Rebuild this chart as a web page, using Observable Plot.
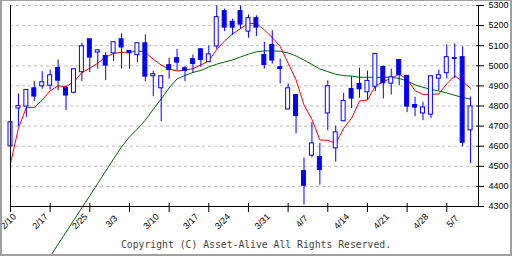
<!DOCTYPE html>
<html><head><meta charset="utf-8">
<script src="https://cdn.jsdelivr.net/npm/d3@7"></script>
<script src="https://cdn.jsdelivr.net/npm/@observablehq/plot@0.6"></script>
<style>
html,body{margin:0;padding:0;background:#fff;}
#wrap{position:relative;width:512px;height:256px;overflow:hidden;background:#fff;}
#frame{position:absolute;left:0;top:0;width:512px;height:256px;box-sizing:border-box;border:2px solid #a0a0a0;border-top-width:1px;pointer-events:none;}
#copy{position:absolute;left:0;width:512px;top:239px;text-align:center;font-family:"DejaVu Sans Mono",monospace;font-size:9.75px;color:#444;white-space:nowrap;}
</style></head><body>
<div id="wrap"><div id="chart"></div><div id="copy">Copyright (C) Asset-Alive All Rights Reserved.</div><div id="frame"></div></div>
<script>
// Trading days (index 0 = 2/10)
const opens  = [4599,4788,4797,4888,4898,4901,4989,4890,4866,4968,5132,5066,5049,5062,5132,5074,5053,5112,4948,4888,5003,5038,4988,5033,5082,5018,5096,5272,5219,5272,5170,5237,5054,5104,4993,4783,4855,4476,4553,4546,4763,4589,4724,4885,4910,4868,4896,4994,4911,5029,4950,4805,4763,4757,4936,4963,5034,5043,4679];
const highs  = [4721,4860,4882,4921,4971,4979,5029,4900,4985,5112,5134,5079,5066,5119,5159,5076,5114,5154,4974,4950,5038,5082,4996,5054,5084,5099,5298,5282,5232,5298,5253,5249,5117,5174,5033,4910,4857,4541,4717,4614,4925,4700,4863,4946,4988,4974,5061,4999,4984,5031,4952,4843,4818,4950,4979,5104,5109,5094,4845];
const lows   = [4597,4697,4744,4822,4883,4880,4876,4777,4860,4921,4966,4983,4926,5021,4984,4983,5016,4921,4847,4722,4933,4974,4921,4963,4993,5016,5082,5170,5152,5182,5137,5146,4984,5008,4910,4782,4661,4307,4543,4406,4677,4521,4722,4787,4838,4830,4871,4835,4855,4900,4767,4747,4727,4737,4876,4935,4935,4597,4513];
const closes = [4719,4800,4880,4847,4918,4953,4926,4852,4983,5097,5041,5077,5001,5117,5091,5062,5112,4946,4958,4948,4979,5016,4974,5009,5029,5057,5242,5190,5190,5205,5237,5190,5004,5026,4984,4888,4750,4403,4614,4481,4898,4669,4825,4837,4883,4925,5059,4913,4943,4955,4797,4792,4793,4948,4953,5043,5038,4617,4798];
// short moving average (red) and long moving average (green)
const maShort = [4514,4689,4793,4793,4830,4876,4900,4896,4921,4966,4988,5013,5043,5062,5067,5067,5074,5067,5033,5004,4984,4974,4978,4986,5004,5024,5082,5124,5159,5185,5212,5209,5179,5141,5096,5013,4930,4805,4734,4631,4629,4614,4689,4739,4825,4830,4900,4921,4938,4958,4933,4876,4858,4858,4860,4910,4950,4921,4888];
const maLong  = [null,null,null,null,3990,4051,4112,4172,4233,4294,4354,4415,4476,4537,4597,4646,4686,4730,4783,4836,4890,4935,4952,4967,4977,4994,5008,5019,5029,5044,5058,5069,5074,5074,5072,5064,5049,5029,5007,4984,4971,4958,4951,4949,4943,4943,4943,4943,4943,4937,4925,4905,4893,4883,4875,4865,4853,4843,4834];
// x tick marks (every 5 trading days) and date labels
const xTickIdx   = [0,5,10,15,20,25,30,35,40,45,50,55];
const xLabelIdx  = [0,4,9,13,18,23,27,32,37,42,47,52,56];
const xLabelText = ["2/10","2/17","2/25","3/3","3/10","3/17","3/24","3/31","4/7","4/14","4/21","4/28","5/7"];
const yTicks     = [4300,4400,4500,4600,4700,4800,4900,5000,5100,5200,5300];
const gridVals   = [4400,4500,4600,4700,4800,4900,5000,5100,5200,5300];

const idx = d3.range(opens.length);
const candles = idx.map(i => ({i, o: opens[i], h: highs[i], l: lows[i], c: closes[i]}));
const labels = xLabelIdx.map((x, k) => ({x, t: xLabelText[k]}));
const BLUE = "#0000ff";

const chart = Plot.plot({
  width: 512, height: 256,
  marginLeft: 10, marginRight: 34, marginTop: 5, marginBottom: 50,
  x: {domain: [0, 59], axis: null},
  y: {domain: [4300, 5300], axis: null},
  style: {background: "transparent", fontFamily: "'Liberation Sans', Arial, sans-serif", fontSize: "9px", color: "#000"},
  marks: [
    Plot.ruleY(gridVals, {stroke: "#bbbbbb", strokeDasharray: "3,3"}),
    Plot.line(idx, {x: i => i, y: i => maLong[i], stroke: "#006600", strokeWidth: 1}),
    Plot.line(idx, {x: i => i, y: i => maShort[i], stroke: "#ff0000", strokeWidth: 1}),
    Plot.ruleX(candles, {x: "i", y1: "l", y2: "h", stroke: BLUE}),
    Plot.rect(candles, {x1: d => d.i - 0.25, x2: d => d.i + 0.25, y1: "o", y2: "c",
      fill: d => d.c >= d.o ? "white" : BLUE, stroke: BLUE, strokeWidth: 1}),
    Plot.ruleX([0, 59], {stroke: "#000"}),
    Plot.ruleY([4300], {stroke: "#000"}),
    Plot.axisY({anchor: "right", ticks: yTicks, tickSize: 8, dx: -3, tickPadding: 5,
      tickFormat: d => String(d), fontSize: 9}),
    Plot.axisX({ticks: xTickIdx, tickSize: 9, dy: -3, tickFormat: () => ""}),
    Plot.text(labels, {x: "x", text: "t", frameAnchor: "bottom", dy: 17, rotate: -45, fontSize: 9, fill: "#000"})
  ]
});
document.getElementById("chart").appendChild(chart);
</script>
</body></html>
